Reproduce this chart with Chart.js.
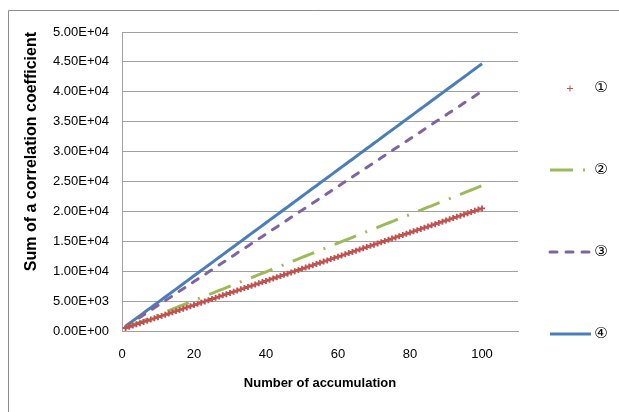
<!DOCTYPE html>
<html>
<head>
<meta charset="utf-8">
<script src="https://cdn.jsdelivr.net/npm/chart.js@4/dist/chart.umd.min.js"></script>
<style>
  html, body { margin: 0; padding: 0; background: #fff; }
  #wrap { width: 619px; height: 412px; }
</style>
</head>
<body>
<div id="wrap"><canvas id="chart" width="619" height="412"></canvas></div>
<script>
const seriesNames = ['\u2460', '\u2461', '\u2462', '\u2463'];

const steps = [
  1, 2, 3, 4, 5, 6, 7, 8, 9, 10, 11, 12, 13, 14, 15, 16, 17, 18, 19, 20,
  21, 22, 23, 24, 25, 26, 27, 28, 29, 30, 31, 32, 33, 34, 35, 36, 37, 38, 39, 40,
  41, 42, 43, 44, 45, 46, 47, 48, 49, 50, 51, 52, 53, 54, 55, 56, 57, 58, 59, 60,
  61, 62, 63, 64, 65, 66, 67, 68, 69, 70, 71, 72, 73, 74, 75, 76, 77, 78, 79, 80,
  81, 82, 83, 84, 85, 86, 87, 88, 89, 90, 91, 92, 93, 94, 95, 96, 97, 98, 99, 100
];

// series 1 (red crosses)
const series1 = [
  500, 700, 910, 1110, 1310, 1510, 1710, 1920, 2120, 2320,
  2520, 2720, 2930, 3130, 3330, 3530, 3730, 3940, 4140, 4340,
  4540, 4740, 4950, 5150, 5350, 5550, 5750, 5960, 6160, 6360,
  6560, 6760, 6970, 7170, 7370, 7570, 7770, 7980, 8180, 8380,
  8580, 8780, 8990, 9190, 9390, 9590, 9790, 10000, 10200, 10400,
  10600, 10800, 11010, 11210, 11410, 11610, 11810, 12020, 12220, 12420,
  12620, 12820, 13030, 13230, 13430, 13630, 13830, 14040, 14240, 14440,
  14640, 14840, 15050, 15250, 15450, 15650, 15850, 16060, 16260, 16460,
  16660, 16860, 17070, 17270, 17470, 17670, 17870, 18080, 18280, 18480,
  18680, 18880, 19090, 19290, 19490, 19690, 19890, 20100, 20300, 20500
];

// series 2 (green dash-dot)
const series2 = [
  540, 780, 1020, 1260, 1500, 1740, 1980, 2220, 2460, 2700,
  2940, 3180, 3420, 3660, 3900, 4140, 4380, 4620, 4860, 5100,
  5340, 5580, 5820, 6060, 6300, 6540, 6780, 7020, 7260, 7500,
  7740, 7980, 8220, 8460, 8700, 8940, 9180, 9420, 9660, 9900,
  10140, 10380, 10620, 10860, 11100, 11340, 11580, 11820, 12060, 12300,
  12540, 12780, 13020, 13260, 13500, 13740, 13980, 14220, 14460, 14700,
  14940, 15180, 15420, 15660, 15900, 16140, 16380, 16620, 16860, 17100,
  17340, 17580, 17820, 18060, 18300, 18540, 18780, 19020, 19260, 19500,
  19740, 19980, 20220, 20460, 20700, 20940, 21180, 21420, 21660, 21900,
  22140, 22380, 22620, 22860, 23100, 23340, 23580, 23820, 24060, 24300
];

// series 3 (purple dashes)
const series3 = [
  700, 1100, 1490, 1890, 2290, 2690, 3090, 3480, 3880, 4280,
  4680, 5080, 5470, 5870, 6270, 6670, 7070, 7460, 7860, 8260,
  8660, 9060, 9450, 9850, 10250, 10650, 11050, 11440, 11840, 12240,
  12640, 13040, 13430, 13830, 14230, 14630, 15030, 15420, 15820, 16220,
  16620, 17020, 17410, 17810, 18210, 18610, 19010, 19400, 19800, 20200,
  20600, 21000, 21390, 21790, 22190, 22590, 22990, 23380, 23780, 24180,
  24580, 24980, 25370, 25770, 26170, 26570, 26970, 27360, 27760, 28160,
  28560, 28960, 29350, 29750, 30150, 30550, 30950, 31340, 31740, 32140,
  32540, 32940, 33330, 33730, 34130, 34530, 34930, 35320, 35720, 36120,
  36520, 36920, 37310, 37710, 38110, 38510, 38910, 39300, 39700, 40100
];

// series 4 (blue solid)
const series4 = [
  800, 1240, 1690, 2130, 2570, 3020, 3460, 3900, 4350, 4790,
  5230, 5680, 6120, 6560, 7010, 7450, 7900, 8340, 8780, 9230,
  9670, 10110, 10560, 11000, 11440, 11890, 12330, 12770, 13210, 13660,
  14100, 14550, 14990, 15430, 15880, 16320, 16760, 17210, 17650, 18090,
  18540, 18980, 19420, 19870, 20310, 20750, 21200, 21640, 22080, 22530,
  22970, 23410, 23860, 24300, 24740, 25190, 25630, 26070, 26520, 26960,
  27400, 27850, 28290, 28730, 29180, 29620, 30060, 30510, 30950, 31400,
  31840, 32280, 32730, 33170, 33610, 34050, 34500, 34940, 35390, 35830,
  36270, 36720, 37160, 37600, 38050, 38490, 38930, 39380, 39820, 40260,
  40710, 41150, 41590, 42040, 42480, 42920, 43370, 43810, 44250, 44700
];

const yTicks = [0, 5000, 10000, 15000, 20000, 25000, 30000, 35000, 40000, 45000, 50000];
const xTicks = [0, 20, 40, 60, 80, 100];

function pts(values) {
  return steps.map((x, i) => ({ x: x, y: values[i] }));
}

function sci(v) {
  if (v === 0) return '0.00E+00';
  const e = Math.floor(Math.log10(v) + 1e-9);
  const m = v / Math.pow(10, e);
  return m.toFixed(2) + 'E+' + String(e).padStart(2, '0');
}

const gray = '#a0a0a0';

// page frame + custom legend
const framePlugin = {
  id: 'frame',
  beforeDraw(chart) {
    const ctx = chart.ctx;
    ctx.save();
    ctx.fillStyle = '#fff';
    ctx.fillRect(0, 0, chart.width, chart.height);
    ctx.strokeStyle = '#8c8c8c';
    ctx.lineWidth = 1;
    ctx.beginPath();
    ctx.moveTo(8.5, chart.height);
    ctx.lineTo(8.5, 10.5);
    ctx.lineTo(chart.width, 10.5);
    ctx.stroke();
    ctx.restore();
  },
  afterDraw(chart) {
    const ctx = chart.ctx;
    ctx.save();
    chart.data.datasets.forEach((ds, i) => {
      const y = 88 + i * 82;
      if (ds.showLine === false) {
        // small plus sign marker
        ctx.strokeStyle = ds.pointBorderColor;
        ctx.lineWidth = 1;
        ctx.beginPath();
        ctx.moveTo(567, y + 0.5);
        ctx.lineTo(573, y + 0.5);
        ctx.moveTo(570, y - 2.5);
        ctx.lineTo(570, y + 3.5);
        ctx.stroke();
      } else {
        ctx.strokeStyle = ds.borderColor;
        ctx.lineWidth = ds.borderWidth;
        ctx.lineCap = ds.borderCapStyle || 'butt';
        ctx.setLineDash(ds.borderDash || []);
        ctx.beginPath();
        ctx.moveTo(550, y);
        ctx.lineTo(591, y);
        ctx.stroke();
        ctx.setLineDash([]);
      }
      ctx.fillStyle = '#000';
      ctx.font = '15px "DejaVu Sans", "Noto Sans CJK JP", sans-serif';
      ctx.textAlign = 'center';
      ctx.textBaseline = 'middle';
      ctx.fillText(ds.label, 601, y);
    });
    ctx.restore();
  }
};

new Chart(document.getElementById('chart'), {
  type: 'line',
  data: {
    datasets: [
      {
        label: seriesNames[0],
        data: pts(series1),
        showLine: false,
        borderColor: '#c0504d',
        backgroundColor: '#c0504d',
        pointStyle: 'cross',
        pointRadius: 3,
        pointBorderWidth: 1.8,
        pointBorderColor: '#c0504d'
      },
      {
        label: seriesNames[1],
        data: pts(series2),
        borderColor: '#9bbb59',
        borderWidth: 3,
        borderDash: [23, 10, 2, 10],
        pointRadius: 0
      },
      {
        label: seriesNames[2],
        data: pts(series3),
        borderColor: '#8064a2',
        borderWidth: 3,
        borderCapStyle: 'round',
        borderDash: [7, 9],
        pointRadius: 0
      },
      {
        label: seriesNames[3],
        data: pts(series4),
        borderColor: '#4a7ebb',
        borderWidth: 3,
        pointRadius: 0
      }
    ]
  },
  options: {
    responsive: false,
    animation: false,
    layout: { padding: { left: 0, top: 32, right: 101, bottom: 0 } },
    plugins: {
      legend: { display: false },
      tooltip: { enabled: false }
    },
    scales: {
      x: {
        type: 'linear',
        min: 0,
        max: 110,
        afterFit(s) { s.height = 81; },
        afterBuildTicks(s) { s.ticks = xTicks.map(v => ({ value: v })); },
        grid: { display: false, drawTicks: false },
        border: { display: true, color: gray, width: 1 },
        ticks: {
          padding: 16,
          color: '#000',
          font: { family: '"Liberation Sans", Arial, sans-serif', size: 13 },
          maxRotation: 0
        },
        title: {
          display: true,
          text: 'Number of accumulation',
          color: '#000',
          font: { family: '"Liberation Sans", Arial, sans-serif', size: 13, weight: 'bold' },
          padding: { top: 0, bottom: 21 }
        }
      },
      y: {
        min: 0,
        max: 50000,
        afterFit(s) { s.width = 122; },
        afterBuildTicks(s) { s.ticks = yTicks.map(v => ({ value: v })); },
        grid: { color: gray, drawTicks: false },
        border: { display: true, color: gray, width: 1 },
        ticks: {
          padding: 13,
          color: '#000',
          font: { family: '"Liberation Sans", Arial, sans-serif', size: 13 },
          callback: v => sci(v)
        },
        title: {
          display: true,
          text: 'Sum of a correlation coefficient',
          align: 'end',
          color: '#000',
          font: { family: '"Liberation Sans", Arial, sans-serif', size: 16, weight: 'bold' },
          padding: { top: 22, bottom: 0 }
        }
      }
    }
  },
  plugins: [framePlugin]
});
</script>
</body>
</html>
